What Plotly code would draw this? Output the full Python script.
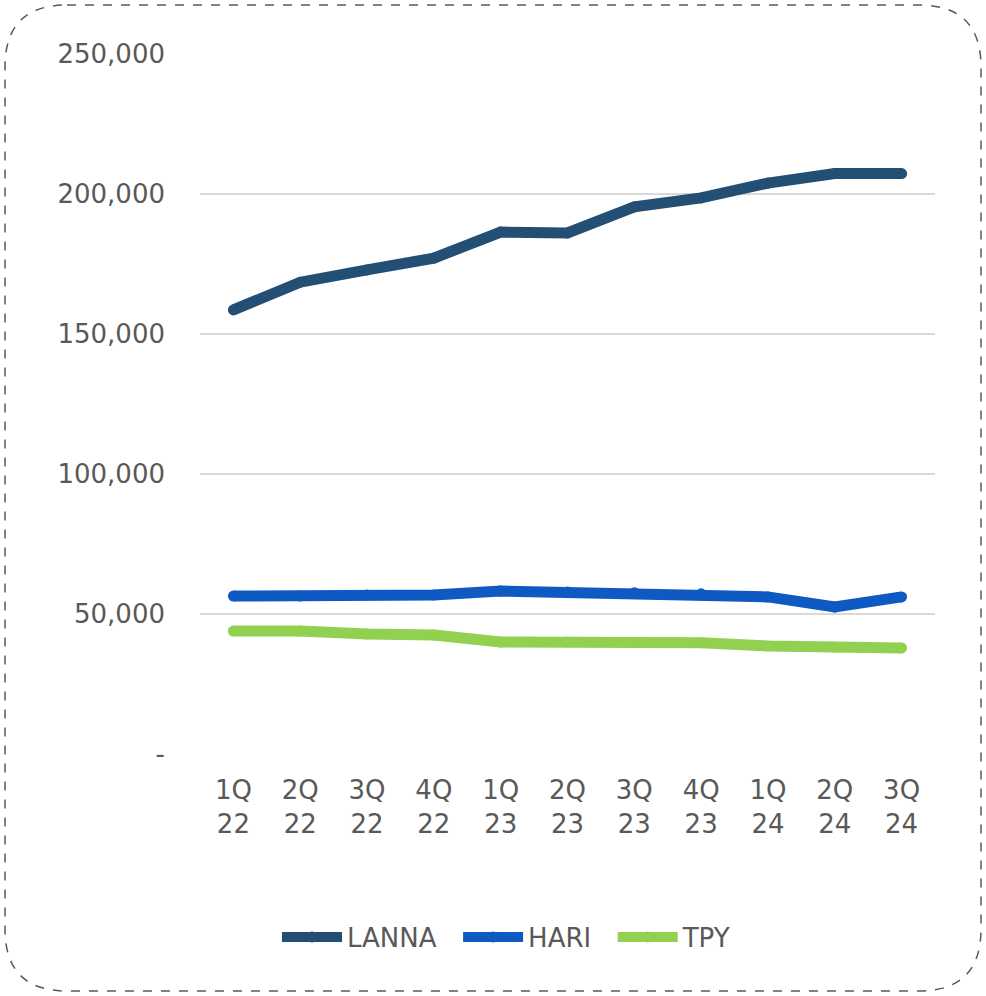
import plotly.graph_objects as go

quarters = ["1Q<br>22", "2Q<br>22", "3Q<br>22", "4Q<br>22", "1Q<br>23", "2Q<br>23",
            "3Q<br>23", "4Q<br>23", "1Q<br>24", "2Q<br>24", "3Q<br>24"]
lanna = [158600, 168500, 172900, 177100, 186400, 186100, 195400, 198600, 203900, 207300, 207300]
hari = [56400, 56400, 56800, 56800, 58200, 57900, 57600, 57200, 56100, 52500, 56100]
tpy = [43900, 43900, 42900, 42500, 40000, 40000, 39800, 39700, 38600, 38200, 37900]

y_ticks = [0, 50000, 100000, 150000, 200000, 250000]
y_ticktext = ["-", "50,000", "100,000", "150,000", "200,000", "250,000"]

series = [("LANNA", lanna, "#244F75"), ("HARI", hari, "#0F59C3"), ("TPY", tpy, "#92D050")]

fig = go.Figure()
for name, vals, col in series:
    fig.add_trace(go.Scatter(x=quarters, y=vals, name=name + "\u00a0\u00a0", mode="lines+markers",
                             line=dict(color=col, width=11),
                             marker=dict(color=col, size=11, line=dict(width=0))))

FONT = "'DejaVu Sans', sans-serif"
TXT = "#595959"
FS = 26

ml, mr, mt, mb = 200, 51, 54, 242
W, H = 986, 996
pw, ph = W - ml - mr, H - mt - mb

def px(x):
    return (x - ml) / pw

def py(y):
    return (H - mb - y) / ph

# rounded dashed border
x0, x1, y0, y1, r = 5, 981, 5, 991, 62
path = (f"M {px(x0+r)},{py(y0)} L {px(x1-r)},{py(y0)} "
        f"Q {px(x1)},{py(y0)} {px(x1)},{py(y0+r)} "
        f"L {px(x1)},{py(y1-r)} Q {px(x1)},{py(y1)} {px(x1-r)},{py(y1)} "
        f"L {px(x0+r)},{py(y1)} Q {px(x0)},{py(y1)} {px(x0)},{py(y1-r)} "
        f"L {px(x0)},{py(y0+r)} Q {px(x0)},{py(y0)} {px(x0+r)},{py(y0)} Z")

fig.update_layout(
    width=W, height=H,
    margin=dict(l=ml, r=mr, t=mt, b=mb),
    paper_bgcolor="white", plot_bgcolor="white",
    font=dict(family=FONT, color=TXT, size=FS),
    showlegend=True,
    legend=dict(orientation="h", x=px(515), xanchor="center", y=py(937), yanchor="middle",
                font=dict(size=FS, color=TXT), itemwidth=60, tracegroupgap=0),
    shapes=[dict(type="path", xref="paper", yref="paper", path=path,
                 line=dict(color="#595959", width=1.5, dash="dash"), fillcolor="rgba(0,0,0,0)",
                 layer="below")],
)
fig.update_xaxes(type="category", range=[-0.5, 10.5], showgrid=False, showline=False,
                 zeroline=False, ticks="", tickfont=dict(size=FS, color=TXT), ticklabelstandoff=18)
fig.update_yaxes(range=[0, 250000], tickvals=y_ticks, ticktext=y_ticktext, showgrid=True,
                 gridcolor="#D9D9D9", gridwidth=1.5, zeroline=False, showline=False, ticks="",
                 tickfont=dict(size=FS, color=TXT), ticklabelstandoff=34)

fig.write_html("out.html", config={"displayModeBar": False},
               post_script="document.body.style.margin='0';")
